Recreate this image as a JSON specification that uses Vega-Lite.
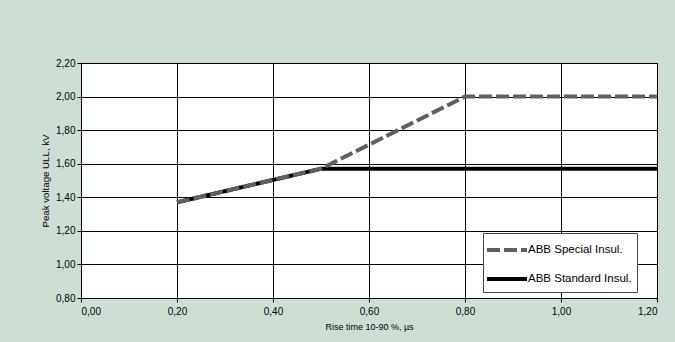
{
  "$schema": "https://vega.github.io/schema/vega-lite/v6.json",
  "width": 576,
  "height": 235,
  "autosize": {"type": "none"},
  "padding": {"left": 81, "top": 63, "right": 18, "bottom": 44},
  "background": "#cfded5",
  "config": {
    "font": "Liberation Sans",
    "view": {"fill": "white", "stroke": "black", "strokeWidth": 1},
    "axis": {
      "gridColor": "black",
      "gridWidth": 1,
      "gridOpacity": 1,
      "domainColor": "black",
      "tickColor": "black",
      "tickSize": 4,
      "labelFontSize": 10,
      "labelColor": "black",
      "titleFontSize": 9.5,
      "titleFontWeight": "normal",
      "titleColor": "black"
    },
    "legend": {
      "orient": "none",
      "legendX": 402,
      "legendY": 170,
      "fillColor": "white",
      "strokeColor": "#444444",
      "padding": 5,
      "symbolType": "M-1.3,0L2.7,0",
      "symbolSize": 400,
      "symbolStrokeWidth": 4,
      "labelFontSize": 11.5,
      "labelColor": "black",
      "labelOffset": 16,
      "rowPadding": 9
    }
  },
  "data": {
    "values": [
      {"series": "ABB Special Insul.", "x": 0.2, "y": 1.37},
      {"series": "ABB Special Insul.", "x": 0.5, "y": 1.57},
      {"series": "ABB Special Insul.", "x": 0.8, "y": 2.0},
      {"series": "ABB Special Insul.", "x": 1.2, "y": 2.0},
      {"series": "ABB Standard Insul.", "x": 0.2, "y": 1.37},
      {"series": "ABB Standard Insul.", "x": 0.5, "y": 1.57},
      {"series": "ABB Standard Insul.", "x": 1.2, "y": 1.57}
    ]
  },
  "encoding": {
    "x": {
      "field": "x", "type": "quantitative",
      "scale": {"domain": [0, 1.2], "nice": false},
      "axis": {
        "values": [0, 0.2, 0.4, 0.6, 0.8, 1.0, 1.2],
        "labelExpr": "replace(format(datum.value, '.2f'), '.', ',')",
        "title": "Rise time 10-90 %,  µs",
        "titleFontSize": 9,
        "labelPadding": 4,
        "titlePadding": 6
      }
    },
    "y": {
      "field": "y", "type": "quantitative",
      "scale": {"domain": [0.8, 2.2], "nice": false, "zero": false},
      "axis": {
        "values": [0.8, 1.0, 1.2, 1.4, 1.6, 1.8, 2.0, 2.2],
        "labelExpr": "replace(format(datum.value, '.2f'), '.', ',')",
        "title": "Peak voltage ULL, kV",
        "titleFontSize": 9.7,
        "labelPadding": 2,
        "titlePadding": 5
      }
    },
    "color": {
      "field": "series", "type": "nominal",
      "scale": {"domain": ["ABB Special Insul.", "ABB Standard Insul."], "range": ["#606060", "#000000"]},
      "legend": {"title": null}
    },
    "strokeDash": {
      "field": "series", "type": "nominal",
      "scale": {"domain": ["ABB Special Insul.", "ABB Standard Insul."], "range": [[13, 4], [1, 0]]},
      "legend": {"title": null}
    }
  },
  "layer": [
    {
      "transform": [{"filter": "datum.series === 'ABB Standard Insul.'"}],
      "mark": {"type": "line", "strokeWidth": 4}
    },
    {
      "transform": [{"filter": "datum.series === 'ABB Special Insul.'"}],
      "mark": {"type": "line", "strokeWidth": 4}
    }
  ]
}
